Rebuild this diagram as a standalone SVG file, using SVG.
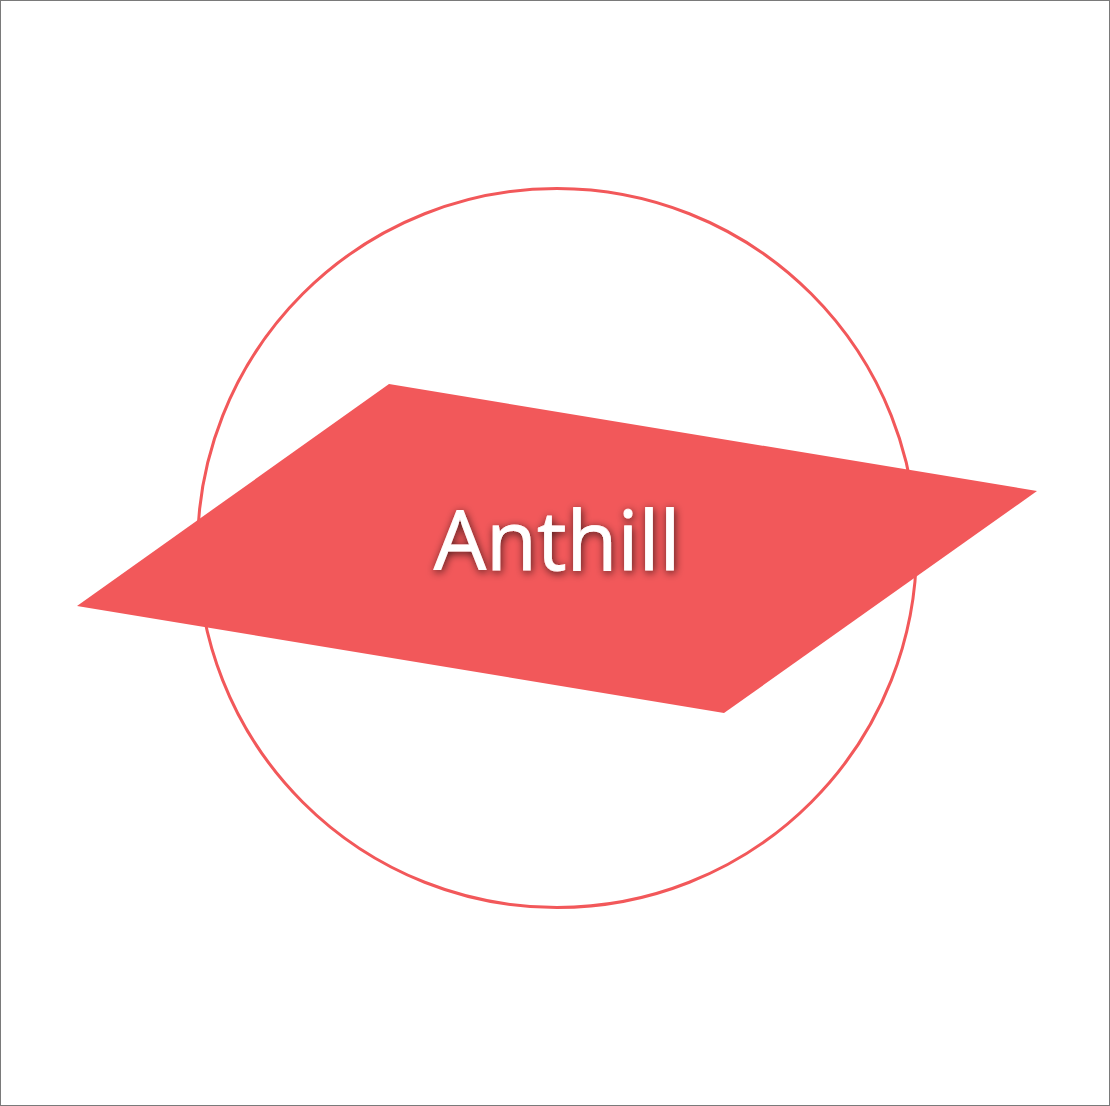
<svg xmlns="http://www.w3.org/2000/svg" width="1110" height="1106" viewBox="0 0 1110 1106">
<defs>
<style>
.frame{fill:#ffffff;stroke:#7a7a7a;stroke-width:1}
.ring{fill:none;stroke:#f2585a;stroke-width:3}
.plane{fill:#f2585a;stroke:none}
.label{font-family:"Open Sans","Noto Sans",sans-serif;font-size:83px;fill:#ffffff;stroke:#ffffff;stroke-width:0.8;text-anchor:middle}
</style>
<filter id="sh" x="-20%" y="-40%" width="140%" height="180%">
<feDropShadow dx="1" dy="2" stdDeviation="4" flood-color="#000000" flood-opacity="0.7"/>
</filter>
</defs>
<rect class="frame" x="0.5" y="0.5" width="1109" height="1105"/>
<g id="anthill">
<circle class="ring" cx="557" cy="548" r="359.5"/>
<polygon class="plane" points="389,384 1037,491 724,713 77,606"/>
<text class="label" x="557" y="570" filter="url(#sh)">Anthill</text>
</g>
</svg>
